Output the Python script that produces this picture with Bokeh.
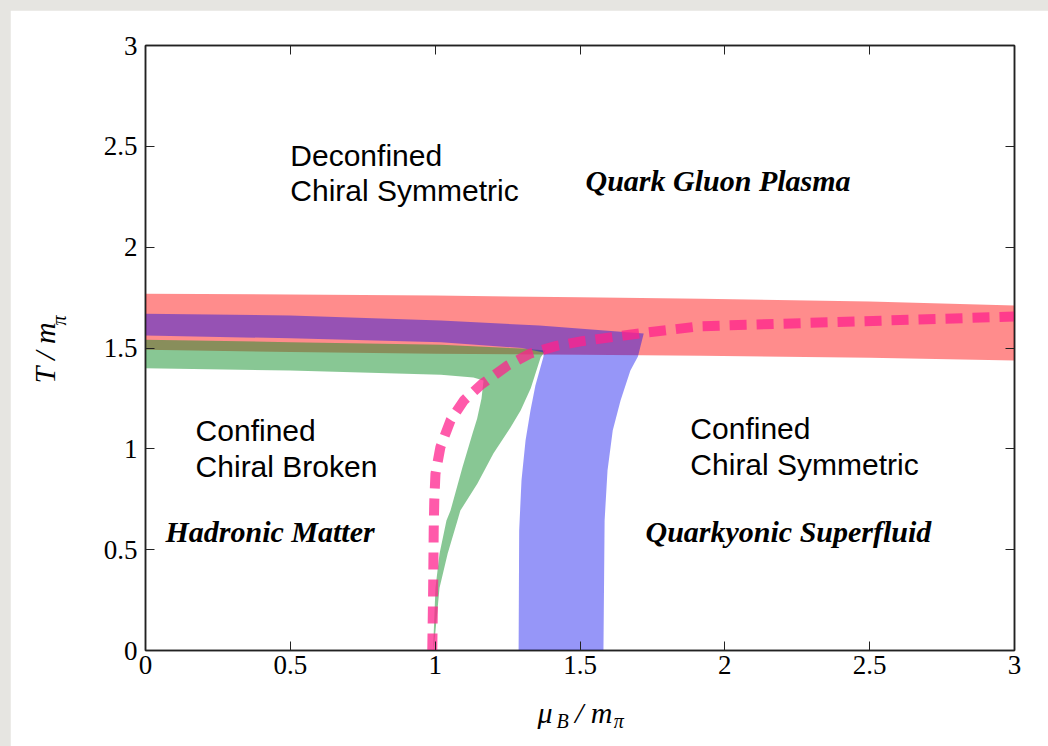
import math
from bokeh.plotting import figure
from bokeh.models import Label, LinearAxis, FixedTicker, Range1d
from bokeh.layouts import column
from bokeh.embed import file_html
from bokeh.resources import INLINE

# ---- axis ticks ----
TICKS = [0, 0.5, 1, 1.5, 2, 2.5, 3]
TICK_LABELS = ["0", "0.5", "1", "1.5", "2", "2.5", "3"]

# ---- red band ----
RED_MU = [0.0, 0.5, 1.0, 1.5, 1.92, 2.5, 3.0]
RED_T_TOP = [1.769, 1.765, 1.760, 1.752, 1.744, 1.730, 1.711]
RED_T_BOT = [1.491, 1.480, 1.472, 1.466, 1.462, 1.452, 1.438]

# ---- blue band (deconfinement) ----
BLUE_OUT_MU = [0.0, 0.5, 1.02, 1.36, 1.72, 1.70, 1.674, 1.640, 1.613, 1.595, 1.585, 1.581]
BLUE_OUT_T = [1.670, 1.661, 1.636, 1.611, 1.572, 1.458, 1.388, 1.240, 1.091, 0.893, 0.645, 0.0]
BLUE_IN_MU = [0.0, 0.5, 1.02, 1.30, 1.374, 1.374, 1.346, 1.329, 1.312, 1.298, 1.290, 1.288]
BLUE_IN_T = [1.562, 1.548, 1.529, 1.50, 1.478, 1.458, 1.314, 1.190, 1.041, 0.843, 0.595, 0.0]

# ---- green band (chiral) ----
GREEN_A_MU = [0.0, 0.5, 1.02, 1.30, 1.381, 1.364, 1.33, 1.295, 1.26, 1.201, 1.146, 1.087, 1.077, 1.043, 1.015, 0.998, 0.993]
GREEN_A_T = [1.541, 1.529, 1.516, 1.497, 1.488, 1.453, 1.30, 1.19, 1.106, 0.977, 0.828, 0.694, 0.645, 0.48, 0.31, 0.05, 0.0]
GREEN_B_MU = [0.0, 0.5, 1.02, 1.132, 1.167, 1.160, 1.145, 1.129, 1.094, 1.053, 1.039, 1.015, 1.001, 0.994, 0.993]
GREEN_B_T = [1.400, 1.388, 1.367, 1.354, 1.339, 1.25, 1.15, 1.076, 0.907, 0.694, 0.645, 0.48, 0.31, 0.05, 0.0]

# ---- pink dashed curve ----
PINK_MU = [0.99, 0.993, 0.995, 0.997, 1.001, 1.018, 1.053, 1.099, 1.162, 1.25, 1.329, 1.422, 1.512, 1.616, 1.719, 1.916, 2.458, 3.0]
PINK_T = [0.0, 0.30, 0.60, 0.744, 0.876, 1.008, 1.141, 1.240, 1.322, 1.413, 1.473, 1.512, 1.535, 1.555, 1.575, 1.608, 1.632, 1.656]

# ---- region labels: (text, mu, T, kind) ----
REGION_TEXTS = [
    ("Deconfined", 0.50, 2.455, "sans"),
    ("Chiral Symmetric", 0.50, 2.281, "sans"),
    ("Quark Gluon Plasma", 1.519, 2.331, "serif"),
    ("Confined", 0.173, 1.091, "sans"),
    ("Chiral Broken", 0.173, 0.912, "sans"),
    ("Hadronic Matter", 0.069, 0.590, "serif"),
    ("Confined", 1.881, 1.101, "sans"),
    ("Chiral Symmetric", 1.881, 0.922, "sans"),
    ("Quarkyonic Superfluid", 1.726, 0.590, "serif"),
]

NB = "\u00a0"
X_TITLE_MAIN = "\u03bc" + NB * 3 + "/ m"
X_TITLE_SUB = "B" + NB * 9 + "\u03c0"
Y_TITLE_MAIN = "T / m"
Y_TITLE_SUB = "\u03c0"

p = figure(width=1038, height=736, x_range=Range1d(0, 3), y_range=Range1d(0, 3),
           output_backend="svg", toolbar_location=None,
           min_border_left=135, min_border_right=34, min_border_top=35, min_border_bottom=96,
           background_fill_color="white", border_fill_color="white")
p.margin = (10, 0, 0, 10)
p.grid.visible = False
p.outline_line_color = "#222222"
p.outline_line_width = 1.5

# bands
p.patch(RED_MU + RED_MU[::-1], RED_T_TOP + RED_T_BOT[::-1],
        fill_color="#ff0000", fill_alpha=0.45, line_color=None)
p.patch(GREEN_A_MU + GREEN_B_MU[::-1], GREEN_A_T + GREEN_B_T[::-1],
        fill_color="#118f29", fill_alpha=0.5, line_color=None)
p.patch(BLUE_OUT_MU + BLUE_IN_MU[::-1], BLUE_OUT_T + BLUE_IN_T[::-1],
        fill_color="#0000ee", fill_alpha=0.41, line_color=None)
p.line(PINK_MU, PINK_T, line_color="#ff208c", line_alpha=0.74, line_width=10,
       line_dash="17 10", line_cap="butt", line_join="round")

# axes
ticker = FixedTicker(ticks=TICKS)
overrides = {t: s for t, s in zip(TICKS, TICK_LABELS)}
for ax in (p.xaxis[0], p.yaxis[0]):
    ax.ticker = ticker
    ax.major_label_overrides = overrides
    ax.major_tick_in = 9
    ax.major_tick_out = 0
    ax.minor_tick_line_color = None
    ax.axis_line_color = "#222222"
    ax.axis_line_width = 1.5
    ax.major_tick_line_color = "#222222"
    ax.major_label_text_font = "Liberation Serif"
    ax.major_label_text_font_size = "27px"
    ax.major_label_text_color = "black"
    ax.major_label_standoff = 8
p.xaxis[0].major_label_standoff = 5

for loc in ("above", "right"):
    a = LinearAxis(ticker=FixedTicker(ticks=TICKS))
    a.major_tick_in = 9
    a.major_tick_out = 0
    a.minor_tick_line_color = None
    a.axis_line_color = "#222222"
    a.axis_line_width = 1.5
    a.major_tick_line_color = "#222222"
    a.major_label_text_color = None
    a.major_label_text_font_size = "1px"
    a.major_label_standoff = 0
    p.add_layout(a, loc)

# region labels
for txt, x, y, kind in REGION_TEXTS:
    if kind == "sans":
        lab = Label(x=x, y=y, text=txt, text_font="Liberation Sans", text_font_size="30px",
                    text_color="black", text_baseline="middle", text_align="left")
    else:
        lab = Label(x=x, y=y, text=txt, text_font="Liberation Serif", text_font_size="30px",
                    text_font_style="bold italic", text_color="black",
                    text_baseline="middle", text_align="left")
    p.add_layout(lab)

serif = "Liberation Serif"
# x title (bottom side panel, so it is not clipped to the frame)
p.add_layout(Label(x=1.353, y=-0.307, text=X_TITLE_MAIN, text_font=serif, text_font_size="30px",
                   text_font_style="italic", text_color="black",
                   text_baseline="middle", text_align="left"), "below")
p.add_layout(Label(x=1.419, y=-0.352, text=X_TITLE_SUB, text_font=serif, text_font_size="20px",
                   text_font_style="italic", text_color="black",
                   text_baseline="middle", text_align="left"), "below")

# y title (left side panel)
p.add_layout(Label(x=-0.349, y=1.324, text=Y_TITLE_MAIN, text_font=serif, text_font_size="30px",
                   text_font_style="italic", text_color="black",
                   text_baseline="middle", text_align="left", angle=math.pi / 2), "left")
p.add_layout(Label(x=-0.300, y=1.611, text=Y_TITLE_SUB, text_font=serif, text_font_size="20px",
                   text_font_style="italic", text_color="black",
                   text_baseline="middle", text_align="left", angle=math.pi / 2), "left")

root = column(p, width=1048, height=746, styles={"background-color": "#e6e5e1"})
open("out.html", "w").write(file_html(root, INLINE))
